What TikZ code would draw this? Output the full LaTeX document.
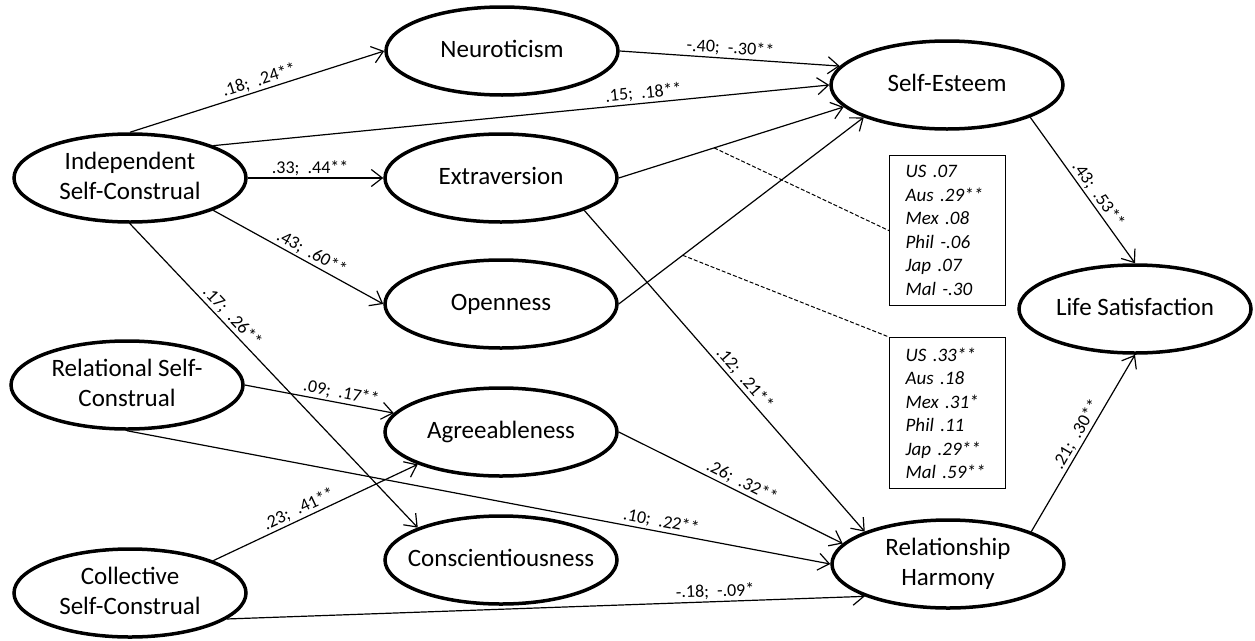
\documentclass[tikz,border=0pt]{standalone}
\usepackage{fontspec}
\setmainfont{Carlito}
\usetikzlibrary{arrows.meta,shapes.geometric}
\newcommand{\twol}[1]{\makebox[0pt]{\begin{tabular}{@{}c@{}}#1\end{tabular}}}
\begin{document}
\begin{tikzpicture}[x=1pt,y=-1pt,
  latent/.style={draw, ellipse, line width=3.5pt, minimum width=232pt, minimum height=88pt, inner sep=0pt, font=\fontsize{25}{30}\selectfont},
  path/.style={line width=1.2pt, -{Straight Barb[length=11pt,width=17pt]}},
  coef/.style={sloped, above, inner sep=2pt, font=\fontsize{18}{20}\selectfont},
  cbox/.style={draw, line width=1.3pt, anchor=north west, text width=84pt, inner xsep=16pt, inner ysep=10pt, align=left, font=\fontsize{19}{23.5}\itshape\selectfont},
  link/.style={line width=1pt, dash pattern=on 4pt off 2pt}
]
\useasboundingbox (0,0) rectangle (1255,640);

% latent variables
\node[latent] (indep) at (130,178) {\twol{Independent\\Self-Construal}};
\node[latent] (rel)   at (127,385) {\twol{Relational Self-\\Construal}};
\node[latent] (coll)  at (130,593) {\twol{Collective\\Self-Construal}};
\node[latent] (neuro) at (502,51)  {\twol{Neuroticism}};
\node[latent] (extra) at (501,178) {\twol{Extraversion}};
\node[latent] (open)  at (501,304) {\twol{Openness}};
\node[latent] (agree) at (501,432) {\twol{Agreeableness}};
\node[latent] (consc) at (501,560) {\twol{Conscientiousness}};
\node[latent] (se)    at (947,85)  {\twol{Self-Esteem}};
\node[latent] (ls)    at (1135,309) {\twol{Life Satisfaction}};
\node[latent] (rh)    at (948,564) {\twol{Relationship\\Harmony}};

% coefficient boxes
\node[cbox] (box1) at (889,155) {US .07\\Aus .29**\\Mex .08\\Phil -.06\\Jap .07\\Mal -.30};
\node[cbox] (box2) at (889,337) {US .33**\\Aus .18\\Mex .31*\\Phil .11\\Jap .29**\\Mal .59**};

% paths
\draw[path] (indep.north) -- node[coef, pos=0.52] {.18; \ .24**} (neuro.west);
\draw[path] (indep.north east) -- node[coef, pos=0.70] {.15; \ .18**} (se.west);
\draw[path] (indep.east) -- node[coef, pos=0.46] {.33; \ .44**} (extra.west);
\draw[path] (indep.south east) -- node[coef, pos=0.55] {.43; \ .60**} (open.west);
\draw[path] (indep.south) -- node[coef, pos=0.33] {.17; \ .26**} (consc.north west);
\draw[path] (neuro.east) -- node[coef, pos=0.5] {-.40; \ -.30**} (se.170);
\draw[path] (extra.east) -- coordinate[pos=0.424] (d1) (se.192);
\draw[path] (open.east) -- coordinate[pos=0.261] (d2) (se.south west);
\draw[path] (extra.south east) -- node[coef, pos=0.545] {.12; \ .21**} (rh.north west);
\draw[path] (agree.east) -- node[coef, pos=0.53] {.26; \ .32**} (rh.169);
\draw[path] (rel.east) -- node[coef, pos=0.635] {.09; \ .17**} (agree.170);
\draw[path] (rel.south) -- node[coef, pos=0.757] {.10; \ .22**} (rh.west);
\draw[path] (coll.north east) -- node[coef, pos=0.44] {.23; \ .41**} (agree.south west);
\draw[path] (coll.-15) -- node[coef, pos=0.766] {-.18; \ -.09*} (rh.south west);
\draw[path] (se.south east) -- node[coef, pos=0.57] {.43; \ .53**} (ls.north);
\draw[path] (rh.north east) -- node[coef, pos=0.52] {.21; \ .30**} (ls.south);

% dashed links to moderation boxes
\draw[link] (d1) -- (box1.west);
\draw[link] (d2) -- (box2.north west);
\end{tikzpicture}
\end{document}
